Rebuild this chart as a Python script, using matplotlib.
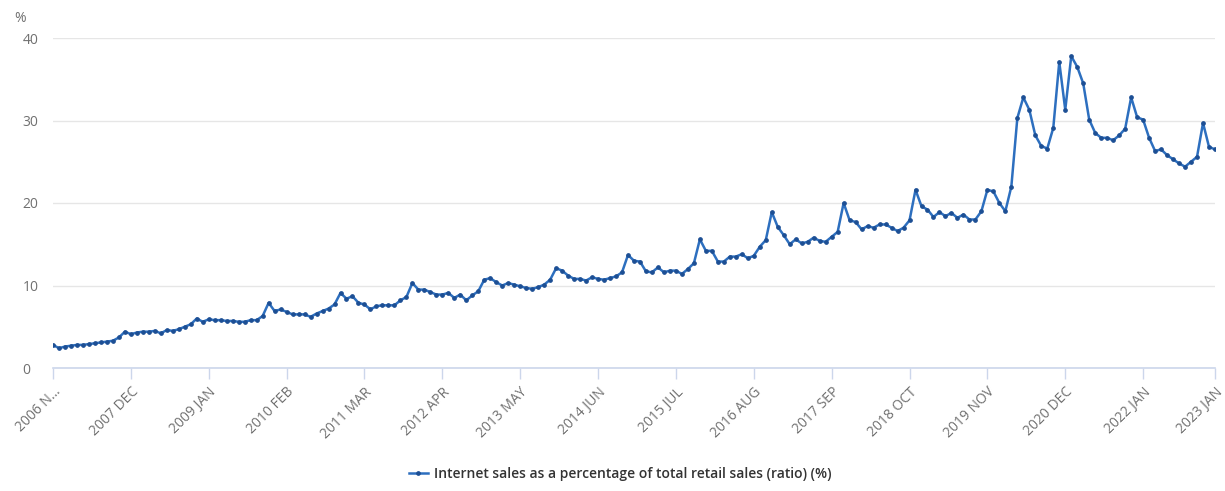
import matplotlib.pyplot as plt

# Monthly values, Nov 2006 .. Jan 2023
values = [
    2.8, 2.4,                                                           # 2006 Nov-Dec
    2.6, 2.7, 2.8, 2.8, 2.9, 3.0, 3.1, 3.2, 3.3, 3.7, 4.4, 4.1,         # 2007
    4.3, 4.4, 4.4, 4.5, 4.2, 4.6, 4.5, 4.7, 5.0, 5.3, 6.0, 5.6,         # 2008
    5.9, 5.8, 5.8, 5.7, 5.7, 5.6, 5.6, 5.8, 5.8, 6.3, 7.9, 6.9,         # 2009
    7.1, 6.8, 6.5, 6.5, 6.5, 6.2, 6.6, 6.9, 7.2, 7.7, 9.1, 8.4,         # 2010
    8.7, 7.9, 7.7, 7.1, 7.5, 7.6, 7.6, 7.6, 8.2, 8.6, 10.3, 9.5,        # 2011
    9.5, 9.2, 8.9, 8.9, 9.1, 8.5, 8.9, 8.2, 8.8, 9.3, 10.7, 10.9,       # 2012
    10.4, 10.0, 10.3, 10.1, 9.9, 9.7, 9.6, 9.8, 10.1, 10.7, 12.1, 11.8, # 2013
    11.2, 10.8, 10.8, 10.6, 11.0, 10.8, 10.7, 10.9, 11.1, 11.6, 13.7, 13.0,  # 2014
    12.9, 11.7, 11.6, 12.2, 11.6, 11.8, 11.8, 11.4, 12.0, 12.7, 15.6, 14.2,  # 2015
    14.2, 12.9, 12.9, 13.5, 13.5, 13.8, 13.3, 13.6, 14.7, 15.5, 18.9, 17.1,  # 2016
    16.1, 15.0, 15.6, 15.1, 15.3, 15.8, 15.4, 15.3, 15.9, 16.5, 20.0, 17.9,  # 2017
    17.7, 16.8, 17.2, 17.0, 17.4, 17.4, 17.0, 16.6, 17.0, 17.9, 21.6, 19.6,  # 2018
    19.2, 18.3, 18.9, 18.4, 18.8, 18.2, 18.6, 18.0, 18.0, 19.0, 21.6, 21.4,  # 2019
    20.0, 19.0, 22.0, 30.3, 32.8, 31.3, 28.2, 26.9, 26.6, 29.1, 37.1, 31.3,  # 2020
    37.8, 36.5, 34.5, 30.1, 28.5, 27.9, 27.9, 27.6, 28.2, 29.0, 32.8, 30.4,  # 2021
    30.1, 27.9, 26.3, 26.5, 25.8, 25.3, 24.8, 24.4, 25.0, 25.6, 29.7, 26.8,  # 2022
    26.5,                                                               # 2023 Jan
]
tick_labels = ['2006 N…', '2007 DEC', '2009 JAN', '2010 FEB', '2011 MAR', '2012 APR',
               '2013 MAY', '2014 JUN', '2015 JUL', '2016 AUG', '2017 SEP', '2018 OCT',
               '2019 NOV', '2020 DEC', '2022 JAN', '2023 JAN']
tick_pos = [0, 13, 26, 39, 52, 65, 78, 91, 104, 117, 130, 143, 156, 169, 182, 194]
y_ticks = [0, 10, 20, 30, 40]

plt.rcParams['font.family'] = ['Open Sans', 'DejaVu Sans']

fig = plt.figure(figsize=(12.25, 4.91), dpi=100)
ax = fig.add_axes([53 / 1225, 123 / 491, 1162 / 1225, 330 / 491])

x = list(range(len(values)))
line, = ax.plot(x, values, color='#2d6fbf', lw=1.8, marker='o', ms=2.4,
                mfc='#1d4f94', mec='#1d4f94', zorder=3,
                label='Internet sales as a percentage of total retail sales (ratio) (%)')

ax.set_xlim(0, 194)
ax.set_ylim(0, 40)
ax.set_yticks(y_ticks)
ax.set_xticks(tick_pos)
ax.set_xticklabels(tick_labels, rotation=45, ha='right', rotation_mode='anchor',
                   fontsize=10, color='#707070')
ax.tick_params(axis='x', length=8, width=1, color='#ccd6eb', pad=4)
ax.tick_params(axis='y', length=0, labelsize=10, labelcolor='#707070', pad=22)
for lbl in ax.get_yticklabels():
    lbl.set_ha('left')

ax.grid(axis='y', color='#e6e6e6', lw=1)
ax.set_axisbelow(True)
for s in ['top', 'right', 'left']:
    ax.spines[s].set_visible(False)
ax.spines['bottom'].set_color('#ccd6eb')
ax.spines['bottom'].set_linewidth(1.2)

fig.text(14 / 1225, 1 - 18 / 491, '%', fontsize=10, color='#707070', va='center')

fig.legend(handles=[line], loc='center', bbox_to_anchor=(620 / 1225, 1 - 474 / 491),
           frameon=False, handlelength=1.4, handletextpad=0.4,
           prop={'weight': 'semibold', 'size': 10})
for t in fig.legends[0].get_texts():
    t.set_color('#333333')

fig.savefig('out.png', dpi=100, facecolor='white')
